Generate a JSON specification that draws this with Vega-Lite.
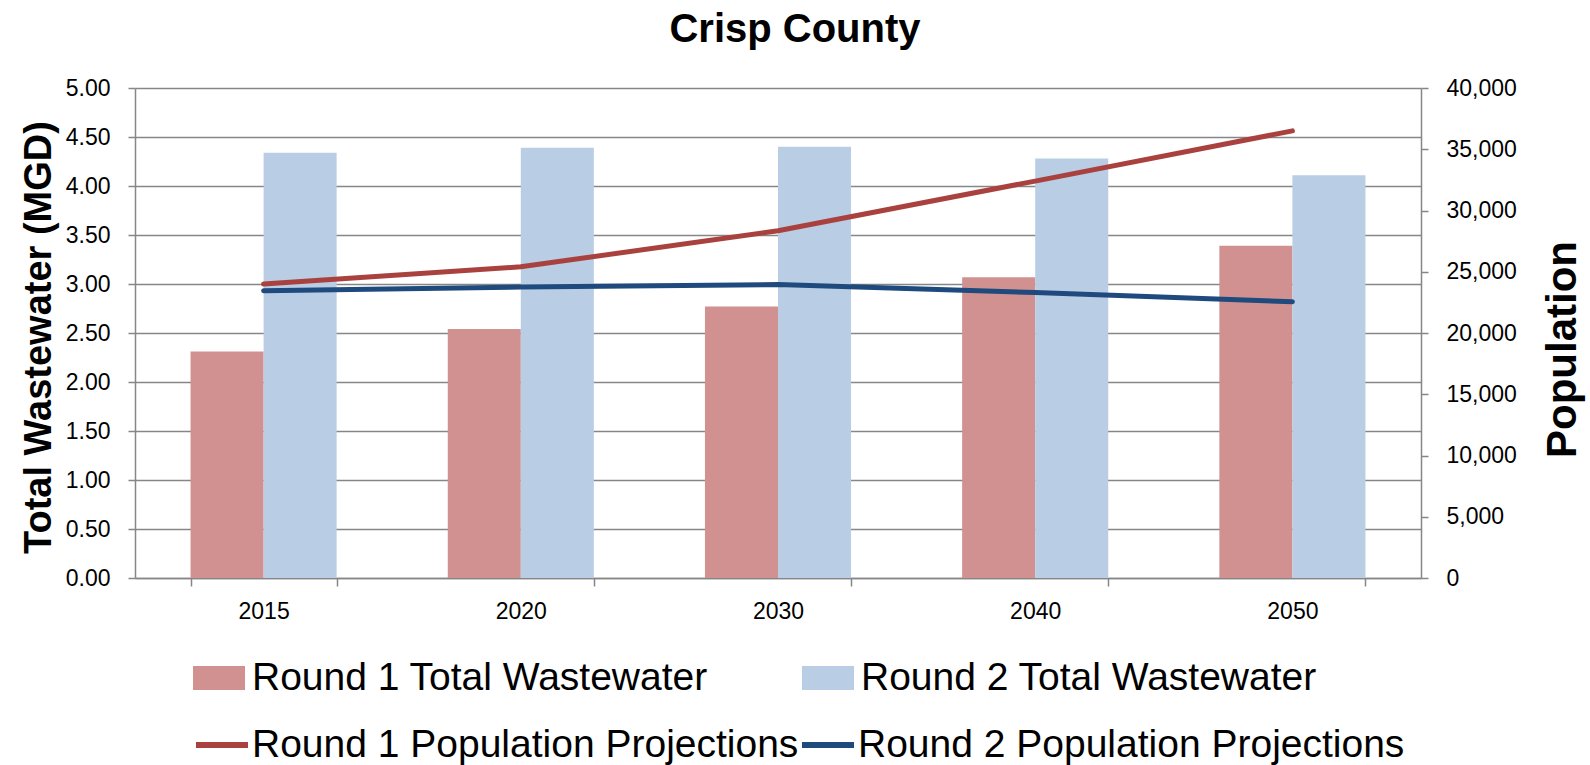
{
  "$schema": "https://vega.github.io/schema/vega-lite/v6.json",
  "width": 1286,
  "height": 490,
  "autosize": {"type": "none"},
  "padding": {"left": 135, "top": 88, "right": 169, "bottom": 187},
  "background": "white",
  "title": {"text": "Crisp County", "font": "Liberation Sans", "fontSize": 40, "fontWeight": "bold", "color": "black", "anchor": "middle", "offset": 27, "dx": 17},
  "config": {"view": {"stroke": null}, "font": "Liberation Sans"},
  "datasets": {
    "bars": [
      {"year": "2015", "round": "Round 1", "series": "Round 1 Total Wastewater", "mgd": 2.31},
      {"year": "2015", "round": "Round 2", "series": "Round 2 Total Wastewater", "mgd": 4.34},
      {"year": "2020", "round": "Round 1", "series": "Round 1 Total Wastewater", "mgd": 2.54},
      {"year": "2020", "round": "Round 2", "series": "Round 2 Total Wastewater", "mgd": 4.39},
      {"year": "2030", "round": "Round 1", "series": "Round 1 Total Wastewater", "mgd": 2.77},
      {"year": "2030", "round": "Round 2", "series": "Round 2 Total Wastewater", "mgd": 4.40},
      {"year": "2040", "round": "Round 1", "series": "Round 1 Total Wastewater", "mgd": 3.07},
      {"year": "2040", "round": "Round 2", "series": "Round 2 Total Wastewater", "mgd": 4.28},
      {"year": "2050", "round": "Round 1", "series": "Round 1 Total Wastewater", "mgd": 3.39},
      {"year": "2050", "round": "Round 2", "series": "Round 2 Total Wastewater", "mgd": 4.11}
    ],
    "lines": [
      {"year": "2015", "series": "Round 1 Population Projections", "pop": 24000},
      {"year": "2020", "series": "Round 1 Population Projections", "pop": 25400},
      {"year": "2030", "series": "Round 1 Population Projections", "pop": 28350},
      {"year": "2040", "series": "Round 1 Population Projections", "pop": 32400},
      {"year": "2050", "series": "Round 1 Population Projections", "pop": 36500},
      {"year": "2015", "series": "Round 2 Population Projections", "pop": 23450},
      {"year": "2020", "series": "Round 2 Population Projections", "pop": 23750},
      {"year": "2030", "series": "Round 2 Population Projections", "pop": 23950},
      {"year": "2040", "series": "Round 2 Population Projections", "pop": 23300},
      {"year": "2050", "series": "Round 2 Population Projections", "pop": 22550}
    ]
  },
  "resolve": {"scale": {"y": "independent"}},
  "layer": [
    {
      "data": {"name": "bars"},
      "mark": {"type": "bar"},
      "encoding": {
        "x": {
          "field": "year", "type": "nominal", "sort": null,
          "scale": {"paddingInner": 0.432, "paddingOuter": 0.216},
          "axis": {"title": null, "labelAngle": 0, "labelFontSize": 23, "labelColor": "black", "labelPadding": 14, "ticks": true, "tickBand": "extent", "tickSize": 8, "tickColor": "#868686", "tickWidth": 1.5, "domainColor": "#868686", "domainWidth": 1.5}
        },
        "xOffset": {"field": "round", "type": "nominal", "sort": ["Round 1", "Round 2"]},
        "y": {
          "field": "mgd", "type": "quantitative",
          "scale": {"domain": [0, 5], "nice": false},
          "axis": {"orient": "left", "values": [0, 0.5, 1, 1.5, 2, 2.5, 3, 3.5, 4, 4.5, 5], "format": ".2f", "labelFontSize": 23, "labelColor": "black", "labelPadding": 18, "tickSize": 7, "tickColor": "#868686", "tickWidth": 1.5, "domainColor": "#868686", "domainWidth": 1.5, "grid": true, "gridColor": "#868686", "gridWidth": 1.5, "title": "Total  Wastewater (MGD)", "titleFont": "Liberation Sans", "titleFontSize": 38, "titleFontWeight": "bold", "titleColor": "black", "titleAngle": 270, "titleX": -85, "titleY": 249, "titleAlign": "center", "titleBaseline": "alphabetic"}
        },
        "color": {
          "field": "series", "type": "nominal",
          "scale": {"domain": ["Round 1 Total Wastewater", "Round 2 Total Wastewater"], "range": ["#D19191", "#B9CDE5"]},
          "legend": {
            "orient": "none", "legendX": 58, "legendY": 564, "title": null, "columns": 2, "columnPadding": 94, "padding": 0,
            "symbolType": "M-1,-0.46H1V0.46H-1Z", "symbolSize": 2704, "symbolStrokeWidth": 0,
            "labelFont": "Liberation Sans", "labelFontSize": 39, "labelColor": "black", "labelOffset": 7, "labelLimit": 1000
          }
        }
      }
    },
    {
      "data": {"name": "lines"},
      "mark": {"type": "line", "strokeWidth": 5, "strokeCap": "round", "strokeJoin": "round"},
      "encoding": {
        "x": {"field": "year", "type": "nominal", "sort": null},
        "y": {
          "field": "pop", "type": "quantitative",
          "scale": {"domain": [0, 40000], "nice": false},
          "axis": {"orient": "right", "values": [0, 5000, 10000, 15000, 20000, 25000, 30000, 35000, 40000], "format": ",d", "labelFontSize": 23, "labelColor": "black", "labelPadding": 18, "tickSize": 7, "tickColor": "#868686", "tickWidth": 1.5, "domainColor": "#868686", "domainWidth": 1.5, "grid": false, "title": "Population", "titleFont": "Liberation Sans", "titleFontSize": 42, "titleFontWeight": "bold", "titleColor": "black", "titleAngle": 270, "titleX": 154, "titleY": 261, "titleAlign": "center", "titleBaseline": "alphabetic"}
        },
        "stroke": {
          "field": "series", "type": "nominal",
          "scale": {"domain": ["Round 1 Population Projections", "Round 2 Population Projections"], "range": ["#A9423F", "#1F4A7E"]},
          "legend": {
            "orient": "none", "legendX": 58, "legendY": 628, "title": null, "columns": 2, "columnPadding": -9, "padding": 0,
            "symbolType": "M-1,0H1", "symbolSize": 2704, "symbolStrokeWidth": 6,
            "labelFont": "Liberation Sans", "labelFontSize": 39, "labelColor": "black", "labelOffset": 1, "labelLimit": 1000
          }
        }
      }
    }
  ]
}
